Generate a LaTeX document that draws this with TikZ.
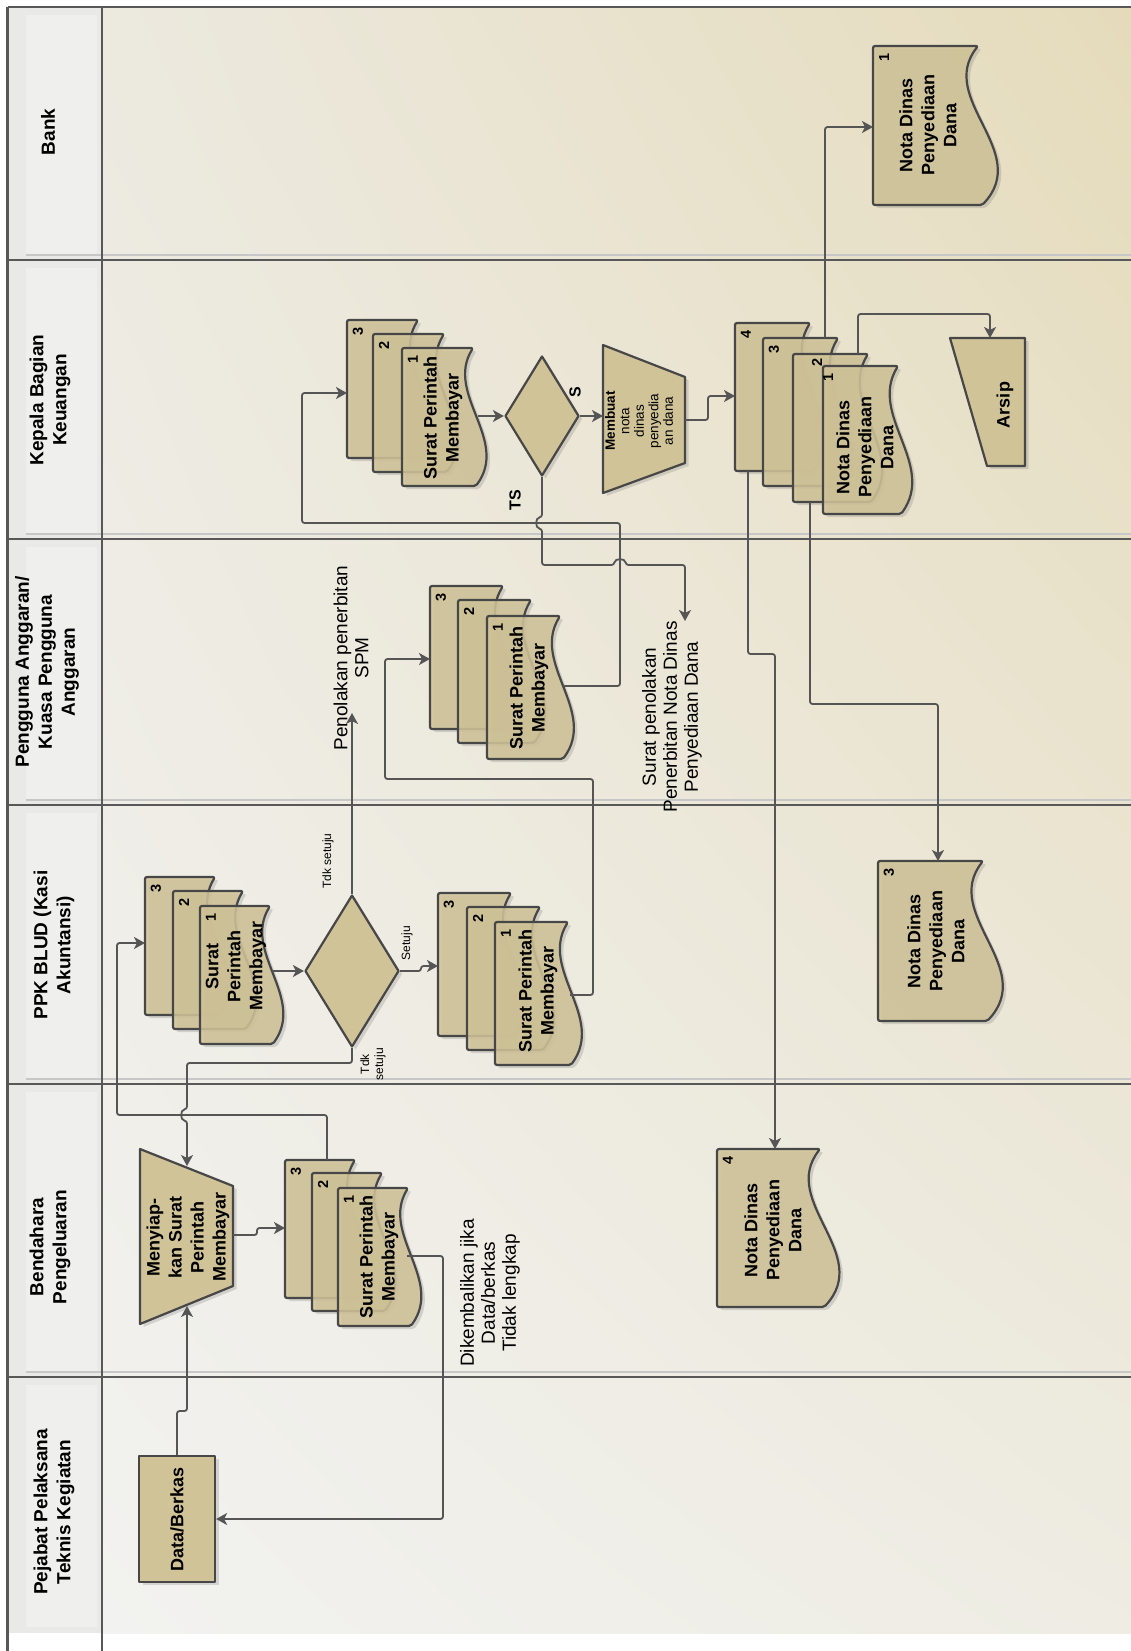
\documentclass[tikz,border=0pt]{standalone}
\usepackage{fontspec}
\setmainfont{Liberation Sans}
\usetikzlibrary{shapes.geometric,arrows.meta,shadows,shadings}

\newcommand\fsz[2]{\fontsize{#1}{#2}\selectfont}

\definecolor{edgec}{HTML}{474747}
\definecolor{linec}{HTML}{555555}
\definecolor{tanc}{HTML}{D0C398}
\definecolor{bgUR}{HTML}{E5DBBB}
\definecolor{bgUL}{HTML}{ECE9DF}
\definecolor{bgLL}{HTML}{F2F2F0}
\definecolor{bgLR}{HTML}{EEECE3}
\definecolor{hdrc}{HTML}{E9E9E7}
\definecolor{hdrin}{HTML}{EFEFED}
\definecolor{lanec}{HTML}{585858}

\tikzset{
  lanetxt/.style={rotate=90, align=center, font=\fsz{19}{23}\bfseries, inner sep=0},
  shapetxt/.style={rotate=90, align=center, font=\fsz{18}{22}\bfseries, inner sep=0},
  lbl/.style={rotate=90, align=center, font=\fsz{19}{21}, inner sep=0},
  smalllbl/.style={rotate=90, align=center, font=\fsz{12}{14}, inner sep=0},
  yeslbl/.style={rotate=90, font=\fsz{16}{16}\bfseries, inner sep=0},
  numlbl/.style={rotate=90, font=\fsz{14.5}{14.5}\bfseries, inner sep=0},
  shadowed/.style={drop shadow={shadow xshift=3.5pt, shadow yshift=-3pt, opacity=0.22, fill=black!60}},
  shp/.style={draw=edgec, line width=2.2pt, fill=tanc, line join=round, shadowed},
  docshp/.style={shp, fill opacity=0.86, rounded corners=2pt},
  conn/.style={draw=linec, line width=1.8pt, rounded corners=2.5pt},
  arr/.style={conn, -{Stealth[length=11pt,width=12pt,inset=3pt]}},
  laneline/.style={draw=lanec, line width=2.4pt},
  lanelight/.style={draw=black!22, line width=1.2pt},
}

% document symbol with a wavy right edge: name, left, top, width, height, copy number
\newcommand\docshape[6]{%
  \pgfmathsetmacro\dR{#2+#4}%
  \pgfmathsetmacro\dB{#3+#5}%
  \pgfmathsetmacro\dA{\dR-0.4*#4}%
  \pgfmathsetmacro\dC{\dR+0.52*#4}%
  \pgfmathsetmacro\dE{\dR+0.04*#4}%
  \pgfmathsetmacro\dY{#3+#5/3}%
  \pgfmathsetmacro\dZ{#3+2*#5/3}%
  \pgfmathsetmacro\nX{#2+11}%
  \pgfmathsetmacro\nY{#3+11}%
  \path[docshp] (#2,#3) -- (\dR,#3) .. controls (\dA,\dY) and (\dC,\dZ) .. (\dE,\dB) -- (#2,\dB) -- cycle;
  \node[inner sep=0, minimum width=#4pt, minimum height=#5pt, anchor=north west] (#1) at (#2,#3) {};
  \node[numlbl] (#1n) at (\nX,\nY) {#6};
}

\begin{document}
\begin{tikzpicture}[x=1pt, y=-1pt]
\useasboundingbox (0,0) rectangle (1131,1651);
\fill[white] (0,0) rectangle (1131,1651);

% ---------- swimlane background ----------
\shade[upper left=bgUL, upper right=bgUR, lower left=bgLL, lower right=bgLR]
  (102,7) rectangle (1131,1633);
\fill[hdrc] (7.5,7) rectangle (102,1633);
\foreach \a/\b in {7/260, 260/539, 539/805, 805/1084, 1084/1377, 1377/1633}
  \fill[hdrin] (26,\a+8) rectangle (97,\b-6);

% lane separators
\foreach \yy in {260, 539, 805, 1084, 1377} {
  \draw[lanelight] (26,\yy-5) -- (1131,\yy-5);
  \draw[laneline] (7.5,\yy) -- (1131,\yy);
}
\draw[laneline] (7.5,7) -- (1131,7);
\draw[laneline] (7.5,7) -- (7.5,1651);
\draw[laneline] (102,7) -- (102,1651);

% ---------- lane titles ----------
\node[lanetxt] (tbank) at (48,132) {Bank};
\node[lanetxt] (tkep) at (50,400) {Kepala Bagian\\Keuangan};
\node[lanetxt] (tpa) at (47,672) {Pengguna Anggaran/\\Kuasa Pengguna\\Anggaran};
\node[lanetxt] (tppk) at (54,945) {PPK BLUD (Kasi\\Akuntansi)};
\node[lanetxt] (tbend) at (50,1247) {Bendahara\\Pengeluaran};
\node[lanetxt] (tpptk) at (54,1512) {Pejabat Pelaksana\\Teknis Kegiatan};

% ---------- Pejabat Pelaksana Teknis Kegiatan ----------
\node[shp, rotate=90, minimum width=126pt, minimum height=76pt, inner sep=0,
      font=\fsz{18}{22}\bfseries] (data) at (177,1519) {Data/Berkas};

% ---------- Bendahara Pengeluaran ----------
\path[shp] (140,1149) -- (233,1186) -- (233,1286) -- (140,1324) -- cycle;
\node[shapetxt] (prep) at (188,1237) {Menyiap-\\kan Surat\\Perintah\\Membayar};

\docshape{bs3}{285}{1160}{70}{138}{3}
\docshape{bs2}{312}{1173}{70}{138}{2}
\docshape{bs1}{338}{1188}{70}{138}{1}
\node[shapetxt] (bst) at (379,1257) {Surat Perintah\\Membayar};

\node[lbl] (kembali) at (490,1293) {Dikembalikan jika\\Data/berkas\\Tidak lengkap};

\docshape{bn4}{717}{1149}{103}{158}{4}
\node[shapetxt] (bnt) at (773,1230) {Nota Dinas\\Penyediaan\\Dana};

% ---------- PPK BLUD ----------
\docshape{pi3}{145}{877}{70}{138}{3}
\docshape{pi2}{173}{891}{70}{138}{2}
\docshape{pi1}{200}{906}{70}{138}{1}
\node[shapetxt] (pit) at (236,966) {Surat\\Perintah\\Membayar};

\node[diamond, shp, minimum width=94pt, minimum height=152pt, inner sep=0] (pd) at (352,971) {};
\node[smalllbl] (tdk1) at (328,861) {Tdk setuju};
\node[smalllbl] (tdk2) at (373,1064) {Tdk\\setuju};
\node[smalllbl] (setuju) at (407,943) {Setuju};

\docshape{po3}{438}{893}{73}{143}{3}
\docshape{po2}{467}{907}{73}{143}{2}
\docshape{po1}{495}{922}{73}{143}{1}
\node[shapetxt] (pot) at (538,991) {Surat Perintah\\Membayar};

\docshape{pn3}{878}{861}{105}{160}{3}
\node[shapetxt] (pnt) at (936,941) {Nota Dinas\\Penyediaan\\Dana};

% ---------- Pengguna Anggaran ----------
\node[lbl] (tolak) at (351,658) {Penolakan penerbitan\\SPM};

\docshape{pa3}{430}{586}{73}{143}{3}
\docshape{pa2}{458}{600}{73}{143}{2}
\docshape{pa1}{487}{616}{73}{143}{1}
\node[shapetxt] (pat) at (529,688) {Surat Perintah\\Membayar};

\node[lbl] (tolaknota) at (672,717) {Surat penolakan\\Penerbitan Nota Dinas\\Penyediaan Dana};

% ---------- Kepala Bagian Keuangan ----------
\docshape{ks3}{347}{320}{71}{138}{3}
\docshape{ks2}{373}{334}{71}{138}{2}
\docshape{ks1}{402}{348}{71}{138}{1}
\node[shapetxt] (kst) at (443,418) {Surat Perintah\\Membayar};

\node[diamond, shp, minimum width=74pt, minimum height=120pt, inner sep=0] (kd) at (542,416) {};
\node[yeslbl] (ts) at (515,500) {TS};
\node[yeslbl] (s) at (575,392) {S};

\path[shp] (603,345) -- (685,377) -- (685,463) -- (603,493) -- cycle;
\node[rotate=90, align=center, font=\fsz{13.5}{14.5}, inner sep=0] (mk) at (639,421)
  {\textbf{Membuat}\\nota\\dinas\\penyedia\\an dana};

\docshape{kn4}{735}{323}{75}{148}{4}
\docshape{kn3}{763}{338}{75}{148}{3}
\docshape{kn2}{793}{354}{75}{148}{}
\docshape{kn1}{823}{366}{75}{148}{}
\node[numlbl] (kn2m) at (817,362) {2};
\node[numlbl] (kn1m) at (828,377) {1};
\node[shapetxt] (knt) at (865,447) {Nota Dinas\\Penyediaan\\Dana};

\path[shp] (950,338) -- (1025,338) -- (1025,466) -- (987,466) -- cycle;
\node[shapetxt] (arsip) at (1005,405) {Arsip};

% ---------- Bank ----------
\docshape{bk1}{873}{46}{105}{159}{1}
\node[shapetxt] (bkt) at (928,125) {Nota Dinas\\Penyediaan\\Dana};

% ---------- connectors ----------
% data -> preparation
\draw[arr] (data.east) -- (177,1411) -- (187,1411) -- (187,1306);
% preparation -> SPM (Bendahara)
\draw[arr] (233,1235) -- (257,1235) -- (257,1228) -- (bs3.west |- 0,1228);
% SPM (Bendahara) -> PPK
\draw[arr] (bs3.north -| 327,0) -- (327,1115) -- (117,1115) -- (117,943) -- (pi3.west |- 0,943);
% return to Pejabat when data incomplete
\draw[arr] (407,1256) -- (443,1256) -- (443,1519) -- (data.south);
% PPK stack -> decision
\draw[arr] (272,971) -- (pd.west);
% rejected by PPK
\draw[arr] (pd.north) -- (352,713);
% approved by PPK
\draw[arr] (pd.east) -- (421,971) -- (421,966) -- (po3.west |- 0,966);
% not approved: back to Bendahara (hop over crossing line)
\draw[arr] (pd.south) -- (352,1063) -- (187,1063) -- (187,1109)
  .. controls (180,1110) and (180,1120) .. (187,1121) -- (187,1166);
% PPK -> Pengguna Anggaran
\draw[arr] (570,995) -- (593,995) -- (593,779) -- (385,779) -- (385,659) -- (pa3.west |- 0,659);
% Pengguna Anggaran -> Kepala Bagian
\draw[arr] (563,686) -- (620,686) -- (620,523) -- (302,523) -- (302,393) -- (ks3.west |- 0,393);
% Kepala stack -> decision
\draw[arr] (478,416) -- (kd.west);
% approved -> make memo
\draw[arr] (kd.east) -- (603,416);
% rejected -> rejection letter (with hops)
\draw[arr] (kd.south) -- (542,517) .. controls (535,518) and (535,528) .. (542,529)
  -- (542,565) -- (614,565) .. controls (615,558) and (625,558) .. (626,565)
  -- (685,565) -- (685,621);
% memo -> copies
\draw[arr] (685,420) -- (708,420) -- (708,396) -- (kn4.west |- 0,396);
% copy 1 -> Bank
\draw[arr] (kn3.north -| 825,0) -- (825,127) -- (bk1.west |- 0,127);
% copy 2 -> archive
\draw[arr] (kn2.north -| 858,0) -- (858,314) -- (990,314) -- (990,338);
% copy 4 -> Bendahara
\draw[arr] (kn4.south -| 748,0) -- (748,654) -- (775,654) -- (bn4.north -| 775,0);
% copy 3 -> PPK
\draw[arr] (kn2.south -| 810,0) -- (810,704) -- (938,704) -- (pn3.north -| 938,0);
\end{tikzpicture}
\end{document}
